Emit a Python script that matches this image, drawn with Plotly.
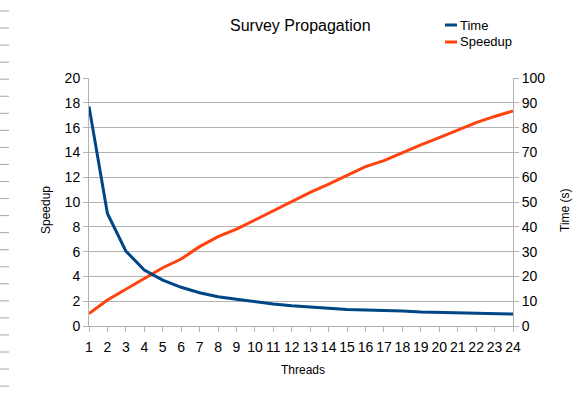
import plotly.graph_objects as go

threads = list(range(1, 25))
time_s = [88.5, 45.4, 30.2, 22.6, 18.5, 15.6, 13.4, 11.8, 10.8, 9.7, 8.9, 8.2,
          7.7, 7.1, 6.7, 6.45, 6.3, 6.05, 5.65, 5.5, 5.2, 5.1, 4.95, 4.8]
speedup = [1.0, 2.1, 2.96, 3.8, 4.7, 5.4, 6.4, 7.2, 7.82, 8.55, 9.3, 10.08,
           10.78, 11.45, 12.18, 12.85, 13.33, 13.98, 14.6, 15.19, 15.8, 16.4, 16.9, 17.34]
series_names = ["Time", "Speedup"]
series_colors = ["#004586", "#ff420e"]

W, H = 583, 396
L, R, T, B = 89, 70, 78, 70
pw, ph = W - L - R, H - T - B
FONT = "Liberation Sans, Arial, sans-serif"
GRID = "#b3b3b3"


def px_x(x):
    return (x - L) / pw


def px_y(y):
    return (H - B - y) / ph


fig = go.Figure()
fig.add_trace(go.Scatter(x=threads, y=time_s, name=series_names[0], mode="lines",
                         line=dict(color=series_colors[0], width=3), yaxis="y2"))
fig.add_trace(go.Scatter(x=threads, y=speedup, name=series_names[1], mode="lines",
                         line=dict(color=series_colors[1], width=3), yaxis="y"))

shapes = []
annotations = []
# decorative dashes at the left page edge
for k in range(23):
    yp = px_y(11 + 17.05 * k)
    shapes.append(dict(type="line", xref="paper", yref="paper",
                       x0=px_x(0), x1=px_x(9), y0=yp, y1=yp,
                       line=dict(color="#a6a6a6", width=1)))

# manual legend (short line keys)
for i, (nm, col) in enumerate(zip(series_names, series_colors)):
    ly = 25 + 17 * i
    shapes.append(dict(type="line", xref="paper", yref="paper",
                       x0=px_x(445), x1=px_x(457), y0=px_y(ly), y1=px_y(ly),
                       line=dict(color=col, width=3)))
    annotations.append(dict(text=nm, xref="paper", yref="paper",
                            x=px_x(458), y=px_y(ly), xanchor="left", yanchor="middle",
                            showarrow=False, font=dict(family=FONT, size=13, color="#000")))

# axis titles
annotations.append(dict(text="Speedup", xref="paper", yref="paper",
                        x=px_x(46), y=px_y(210), textangle=-90, showarrow=False,
                        xanchor="center", yanchor="middle",
                        font=dict(family=FONT, size=12, color="#000")))
annotations.append(dict(text="Time (s)", xref="paper", yref="paper",
                        x=px_x(565), y=px_y(210), textangle=-90, showarrow=False,
                        xanchor="center", yanchor="middle",
                        font=dict(family=FONT, size=12, color="#000")))
annotations.append(dict(text="Threads", xref="paper", yref="paper",
                        x=px_x(303), y=px_y(370), showarrow=False,
                        xanchor="center", yanchor="middle",
                        font=dict(family=FONT, size=12, color="#000")))
annotations.append(dict(text="Survey Propagation", xref="paper", yref="paper",
                        x=px_x(300), y=px_y(25), showarrow=False,
                        xanchor="center", yanchor="middle",
                        font=dict(family=FONT, size=16, color="#000")))

fig.update_layout(
    width=W, height=H,
    margin=dict(l=L, r=R, t=T, b=B, autoexpand=False),
    paper_bgcolor="white", plot_bgcolor="white",
    font=dict(family=FONT, color="#000000", size=12),
    showlegend=False,
    xaxis=dict(range=[1, 24], tickmode="linear", tick0=1, dtick=1,
               showgrid=False, showline=True, linecolor=GRID, linewidth=1,
               ticks="outside", ticklen=5, tickcolor=GRID, ticklabelstandoff=3,
               tickfont=dict(size=14), zeroline=False, automargin=False),
    yaxis=dict(range=[0, 20], tickmode="linear", tick0=0, dtick=2,
               showgrid=True, gridcolor=GRID, gridwidth=1,
               showline=True, linecolor=GRID, linewidth=1,
               ticks="outside", ticklen=5, tickcolor=GRID,
               tickfont=dict(size=14), zeroline=False, automargin=False),
    yaxis2=dict(range=[0, 100], tickmode="linear", tick0=0, dtick=10,
                overlaying="y", side="right", showgrid=False,
                showline=True, linecolor=GRID, linewidth=1,
                ticks="outside", ticklen=5, tickcolor=GRID,
                tickfont=dict(size=14), zeroline=False, automargin=False),
    shapes=shapes,
    annotations=annotations,
)

fig.write_html("out.html", config={"displayModeBar": False},
               post_script="document.body.style.margin='0px';document.body.style.overflow='hidden';")
